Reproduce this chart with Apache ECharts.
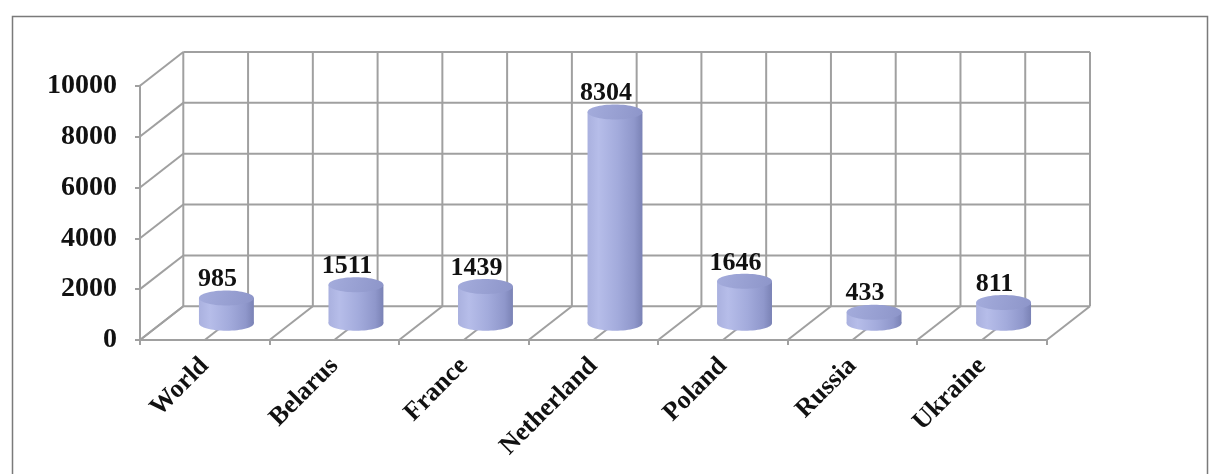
<!DOCTYPE html>
<html><head><meta charset="utf-8">
<script src="https://cdn.jsdelivr.net/npm/echarts@6/dist/echarts.min.js"></script>
<style>html,body{margin:0;padding:0;background:#fff}#c{width:1215px;height:474px}</style>
</head><body><div id="c"></div>
<script>
const categories = ['World', 'Belarus', 'France', 'Netherland', 'Poland', 'Russia', 'Ukraine'];
const values = [985, 1511, 1439, 8304, 1646, 433, 811];
const yTicks = [0, 2000, 4000, 6000, 8000, 10000];

const DX = 43.3, DY = -33.7;
const GRID_COLOR = '#a0a0a0';
const FONT = '"Liberation Serif", "Times New Roman", serif';

const chart = echarts.init(document.getElementById('c'));

function wallsRender(params, api) {
  const band = api.size([1, 0])[0];
  const n = categories.length;
  const c0 = api.coord([0, 0]);
  const xL = c0[0] - band / 2;
  const xR = api.coord([n - 1, 0])[0] + band / 2;
  const y0 = c0[1];
  const yTop = api.coord([0, yTicks[yTicks.length - 1]])[1];
  const ls = { stroke: GRID_COLOR, lineWidth: 2 };
  const children = [];
  yTicks.forEach(function (t) {
    const y = api.coord([0, t])[1];
    children.push({ type: 'line', shape: { x1: xL + DX, y1: y + DY, x2: xR + DX, y2: y + DY }, style: ls });
    children.push({ type: 'line', shape: { x1: xL, y1: y, x2: xL + DX, y2: y + DY }, style: ls });
  });
  const half = band / 2;
  for (let k = 0; k <= 2 * n; k++) {
    const x = xL + k * half;
    children.push({ type: 'line', shape: { x1: x + DX, y1: y0 + DY, x2: x + DX, y2: yTop + DY }, style: ls });
    children.push({ type: 'line', shape: { x1: x, y1: y0, x2: x + DX, y2: y0 + DY }, style: ls });
  }
  return { type: 'group', children: children };
}

function cylRender(params, api) {
  const i = api.value(0), v = api.value(1);
  const band = api.size([1, 0])[0];
  const base = api.coord([i, 0]);
  const top = api.coord([i, v]);
  const cx = base[0] + DX / 2;
  const yb = base[1] + DY / 2;
  const yt = top[1] + DY / 2;
  const rx = band * 0.212, ry = 7.5;
  const bodyFill = new echarts.graphic.LinearGradient(0, 0, 1, 0, [
    { offset: 0, color: '#aab1df' },
    { offset: 0.2, color: '#b6bde9' },
    { offset: 0.55, color: '#a3abdc' },
    { offset: 0.85, color: '#8f97cb' },
    { offset: 1, color: '#7a82b5' }
  ]);
  const topFill = new echarts.graphic.LinearGradient(0, 0, 1, 1, [
    { offset: 0, color: '#a4acdc' },
    { offset: 1, color: '#8d95c9' }
  ]);
  return {
    type: 'group',
    children: [
      { type: 'ellipse', shape: { cx: cx, cy: yb, rx: rx, ry: ry }, style: { fill: bodyFill } },
      { type: 'rect', shape: { x: cx - rx, y: yt, width: 2 * rx, height: yb - yt }, style: { fill: bodyFill } },
      { type: 'ellipse', shape: { cx: cx, cy: yt, rx: rx, ry: ry }, style: { fill: topFill } },
      { type: 'text', x: cx - 9, y: yt - ry + 2, style: {
          text: String(v), fill: '#111', fontSize: 26, fontWeight: 'bold', fontFamily: FONT,
          align: 'center', verticalAlign: 'bottom' } }
    ]
  };
}

chart.setOption({
  animation: false,
  backgroundColor: '#ffffff',
  graphic: [{
    type: 'rect', left: 10, top: 14,
    shape: { width: 1195, height: 470 },
    style: { fill: 'none', stroke: '#7a7a7a', lineWidth: 1.5 }
  }],
  grid: { left: 140, right: 168.3, top: 85.7, bottom: 134, containLabel: false, outerBoundsMode: 'none' },
  xAxis: {
    type: 'category', data: categories,
    axisLine: { show: true, lineStyle: { color: GRID_COLOR, width: 2 } },
    axisTick: { show: true, length: 5, lineStyle: { color: GRID_COLOR, width: 2 } },
    axisLabel: { rotate: 45, fontSize: 26, fontWeight: 'bold', fontFamily: FONT, color: '#111', margin: 22, interval: 0 },
    splitLine: { show: false }
  },
  yAxis: {
    type: 'value', min: 0, max: 10000, interval: 2000,
    axisLine: { show: true, lineStyle: { color: GRID_COLOR, width: 2 } },
    axisTick: { show: true, length: 5, lineStyle: { color: GRID_COLOR, width: 2 } },
    axisLabel: { fontSize: 28, fontWeight: 'bold', fontFamily: FONT, color: '#111', margin: 23,
      formatter: function (v) { return String(v); } },
    splitLine: { show: false }
  },
  series: [
    { type: 'custom', name: 'walls', renderItem: wallsRender, data: [[0, 0]], clip: false, silent: true, z: 1 },
    { type: 'custom', name: 'values', renderItem: cylRender, data: values.map(function (v, i) { return [i, v]; }),
      encode: { x: 0, y: 1 }, clip: false, z: 3 }
  ]
});
</script>
</body></html>
